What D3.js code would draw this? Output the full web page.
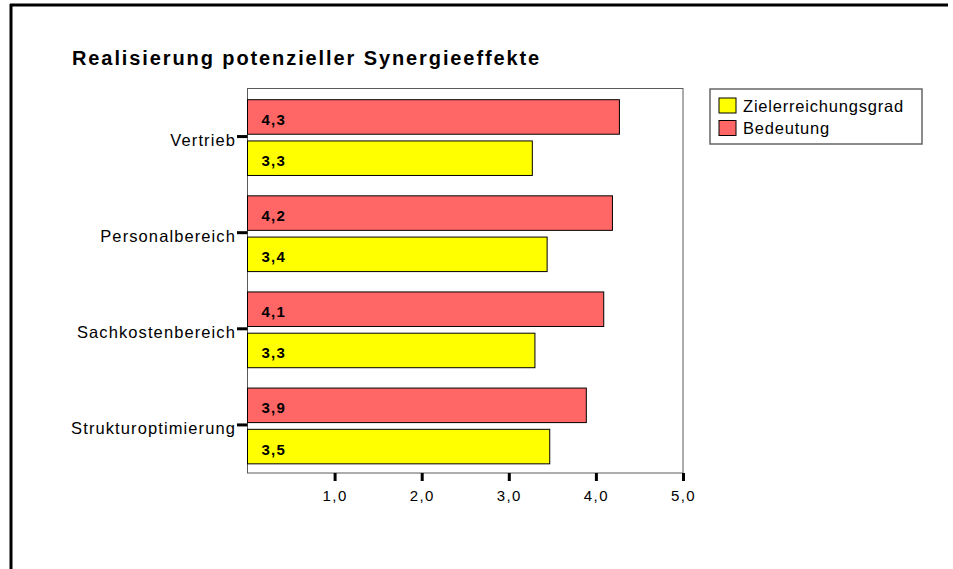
<!DOCTYPE html>
<html>
<head>
<meta charset="utf-8">
<script src="https://cdn.jsdelivr.net/npm/d3@7"></script>
<style>
  html, body { margin: 0; padding: 0; background: #fff; }
  svg { display: block; font-family: "Liberation Sans", Arial, sans-serif; }
</style>
</head>
<body>
<svg id="chart" width="953" height="569"></svg>
<script>
// ---- data ----
const title = "Realisierung potenzieller Synergieeffekte";
const categories = ["Vertrieb", "Personalbereich", "Sachkostenbereich", "Strukturoptimierung"];
const seriesNames = ["Zielerreichungsgrad", "Bedeutung"];
const zielerreichungsgrad = [3.27, 3.44, 3.30, 3.47];
const bedeutung = [4.27, 4.19, 4.09, 3.89];
const xTicks = [1, 2, 3, 4, 5];
const seriesColors = ["#FFFF00", "#FF6666"];

// ---- layout ----
const svg = d3.select("#chart");
const plot = { left: 247.5, right: 683, top: 88.5, bottom: 473 };
const locale = d3.formatLocale({ decimal: ",", thousands: ".", grouping: [3], currency: ["", "€"] });
const fmt = locale.format(".1f");

const x = d3.scaleLinear().domain([0, 5]).range([plot.left, plot.right]);
const y = d3.scaleBand().domain(categories).range([plot.top, plot.bottom]).padding(0);
const sub = d3.scaleBand().domain(["Bedeutung", "Zielerreichungsgrad"])
  .range([0, y.bandwidth()]).paddingInner(0.163).paddingOuter(0.247).align(0.55);

// outer frame
svg.append("line").attr("x1", 10).attr("x2", 948).attr("y1", 5).attr("y2", 5)
  .attr("stroke", "#000").attr("stroke-width", 3);
svg.append("line").attr("x1", 11).attr("x2", 11).attr("y1", 4).attr("y2", 569)
  .attr("stroke", "#000").attr("stroke-width", 3);

// title
svg.append("text").attr("x", 72).attr("y", 65)
  .attr("font-size", 20).attr("font-weight", "bold").attr("letter-spacing", "1.9px")
  .attr("fill", "#000").text(title);

// plot frame
svg.append("rect").attr("x", plot.left).attr("y", plot.top)
  .attr("width", plot.right - plot.left).attr("height", plot.bottom - plot.top)
  .attr("fill", "none").attr("stroke", "#5a5a5a").attr("stroke-width", 1);

// bars
const rows = categories.map((c, i) => ({ cat: c, values: [
  { key: "Bedeutung", v: bedeutung[i], color: seriesColors[1] },
  { key: "Zielerreichungsgrad", v: zielerreichungsgrad[i], color: seriesColors[0] }
]}));

const g = svg.append("g");
rows.forEach(r => {
  r.values.forEach(d => {
    const y0 = y(r.cat) + sub(d.key);
    g.append("rect").attr("x", x(0)).attr("y", y0)
      .attr("width", x(d.v) - x(0)).attr("height", sub.bandwidth())
      .attr("fill", d.color).attr("stroke", "#000").attr("stroke-width", 1);
    g.append("text").attr("x", x(0) + 14).attr("y", y0 + sub.bandwidth() / 2 + 8)
      .attr("font-size", 15).attr("font-weight", "bold").attr("letter-spacing", "1.2px")
      .attr("fill", "#000").text(fmt(d.v));
  });
});

// y axis ticks + labels
categories.forEach(c => {
  const cy = y(c) + y.bandwidth() / 2;
  svg.append("line").attr("x1", 237).attr("x2", plot.left).attr("y1", cy).attr("y2", cy)
    .attr("stroke", "#000").attr("stroke-width", 3);
  svg.append("text").attr("x", 236).attr("y", cy + 9).attr("text-anchor", "end")
    .attr("font-size", 16.5).attr("letter-spacing", "1.1px").attr("fill", "#000").text(c);
});

// x axis
const xAxis = d3.axisBottom(x).tickValues(xTicks).tickFormat(fmt).tickSize(8).tickPadding(9);
const ax = svg.append("g").attr("transform", `translate(0,${plot.bottom})`).call(xAxis);
ax.select(".domain").remove();
ax.selectAll(".tick line").attr("stroke", "#000").attr("stroke-width", 3);
ax.selectAll(".tick text").attr("font-size", 15).attr("letter-spacing", "1.4px")
  .attr("font-family", "Liberation Sans, Arial, sans-serif").attr("fill", "#000");

// legend
const lg = svg.append("g");
lg.append("rect").attr("x", 710).attr("y", 89).attr("width", 212).attr("height", 55)
  .attr("fill", "#fff").attr("stroke", "#666").attr("stroke-width", 1.5);
const legendItems = [
  { name: seriesNames[0], color: seriesColors[0] },
  { name: seriesNames[1], color: seriesColors[1] }
];
legendItems.forEach((d, i) => {
  const yy = 98 + i * 22.5;
  lg.append("rect").attr("x", 719).attr("y", yy).attr("width", 17).attr("height", 15)
    .attr("fill", d.color).attr("stroke", "#000").attr("stroke-width", 1);
  lg.append("text").attr("x", 743).attr("y", yy + 13.5).attr("font-size", 16.5)
    .attr("letter-spacing", "0.8px").attr("fill", "#000").text(d.name);
});
</script>
</body>
</html>
